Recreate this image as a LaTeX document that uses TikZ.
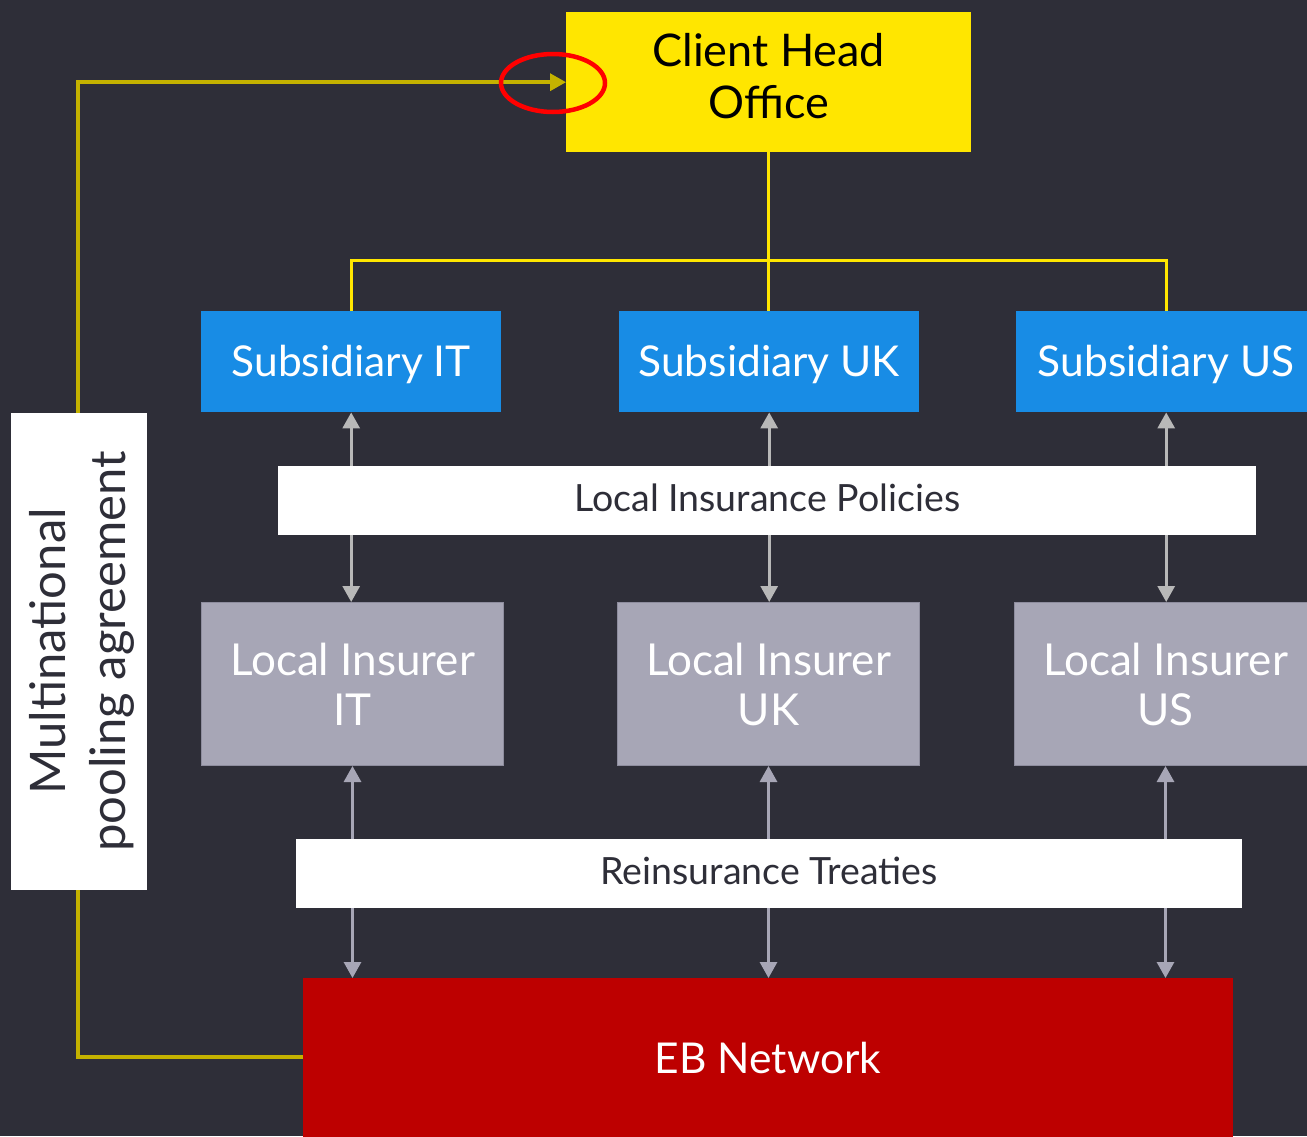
\documentclass[tikz,border=0pt]{standalone}
\usepackage{fontspec}
\setmainfont{Lato}
\usetikzlibrary{arrows.meta,shapes.geometric,calc}
\definecolor{bgdark}{HTML}{2E2E38}
\definecolor{eyyellow}{HTML}{FFE600}
\definecolor{olive}{HTML}{C4B200}
\definecolor{subblue}{HTML}{188CE5}
\definecolor{insgray}{HTML}{A7A6B6}
\definecolor{insedge}{HTML}{8E8D9E}
\definecolor{ebred}{HTML}{BD0000}
\definecolor{arrowlight}{HTML}{B8B8B8}
\definecolor{arrowdark}{HTML}{A7A6B6}
\tikzset{
  box/.style={rectangle, inner sep=0pt, anchor=north west},
  txt/.style={inner sep=0pt, align=center},
  headbox/.style={box, fill=eyyellow, minimum width=405pt, minimum height=140pt},
  subbox/.style={box, fill=subblue, minimum width=300pt, minimum height=101pt},
  insbox/.style={box, fill=insgray, draw=insedge, line width=1pt, minimum width=302pt, minimum height=163pt},
  labelbox/.style={box, fill=white, minimum height=69pt},
  ebbox/.style={box, fill=ebred, minimum width=930pt, minimum height=160pt},
  headtxt/.style={txt, text=black, font=\fontsize{45}{52}\selectfont},
  subtxt/.style={txt, text=white, font=\fontsize{42.5}{50}\selectfont},
  instxt/.style={txt, text=white, font=\fontsize{44}{50}\selectfont},
  bartxt/.style={txt, text=bgdark, font=\fontsize{37.5}{40}\selectfont},
  tree/.style={draw=eyyellow, line width=3pt},
  twoway/.style={line width=3pt, {Triangle[width=17pt,length=16pt]}-{Triangle[width=17pt,length=16pt]}},
}
\begin{document}
\begin{tikzpicture}[x=1pt,y=-1pt]
  \fill[bgdark] (0,0) rectangle (1307,1136);
  \clip (0,0) rectangle (1307,1136);

  % head office and subsidiaries
  \node[headbox] (cho) at (566,12) {};
  \node[subbox] (subIT) at (201,311) {};
  \node[subbox] (subUK) at (619,311) {};
  \node[subbox] (subUS) at (1016,311) {};
  \node[headtxt] (chotxt) at ($(cho.center)+(0,-6)$) {Client Head\\Office};
  \node[subtxt] (subITtxt) at ($(subIT.center)+(0,3)$) {Subsidiary IT};
  \node[subtxt] (subUKtxt) at ($(subUK.center)+(0,3)$) {Subsidiary UK};
  \node[subtxt] (subUStxt) at ($(subUS.center)+(0,3)$) {Subsidiary US};

  % local insurers and network
  \node[insbox] (insIT) at (201,602) {};
  \node[insbox] (insUK) at (617,602) {};
  \node[insbox] (insUS) at (1014,602) {};
  \node[instxt] (insITtxt) at ($(insIT.center)+(0,0)$) {Local Insurer\\IT};
  \node[instxt] (insUKtxt) at ($(insUK.center)+(0,0)$) {Local Insurer\\UK};
  \node[instxt] (insUStxt) at ($(insUS.center)+(0,0)$) {Local Insurer\\US};
  \node[ebbox] (eb) at (303,978) {};
  \node[subtxt] (ebtxt) at (768,1058) {EB Network};

  % ownership tree
  \coordinate (bus) at (cho.south |- 0,260);
  \draw[tree] (cho.south) -- (cho.south |- subUK.north);
  \draw[tree] (subIT.north) |- (bus) -| (subUS.north);

  % policies between subsidiaries and insurers
  \foreach \s/\i in {subIT/insIT, subUK/insUK, subUS/insUS}{
    \draw[twoway, draw=arrowlight, fill=arrowlight] (\s.south) -- (\s.south |- \i.north);
  }
  % treaties between insurers and the network
  \foreach \i in {insIT, insUK, insUS}{
    \draw[twoway, draw=arrowdark, fill=arrowdark] (\i.south) -- (\i.south |- eb.north);
  }

  % pooling agreement back to head office
  \coordinate (bend) at (78,1057);
  \draw[olive, line width=3.5pt, -{Triangle[width=17pt,length=16pt]}]
    (eb.west |- bend) -- (bend) |- (cho.west);
  \node[draw=red, line width=4.5pt, ellipse, minimum width=104pt, minimum height=58pt] (ring) at (553,83) {};

  % label bars
  \node[labelbox, minimum width=978pt] (lip) at (278,466) {};
  \node[labelbox, minimum width=946pt] (rt) at (296,839) {};
  \node[bartxt] (liptxt) at ($(lip.center)+(0,-3)$) {Local Insurance Policies};
  \node[bartxt] (rttxt) at ($(rt.center)+(0,-3)$) {Reinsurance Treaties};
  \node[rectangle, inner sep=0pt, fill=white, minimum width=477pt, minimum height=136pt, rotate=90]
    (pool) at (79,651.5) {};
  \node[txt, text=bgdark, rotate=90, font=\fontsize{49}{60}\selectfont] (pooltxt) at ($(pool.center)+(3,0)$)
    {Multinational\\pooling agreement};
\end{tikzpicture}
\end{document}
